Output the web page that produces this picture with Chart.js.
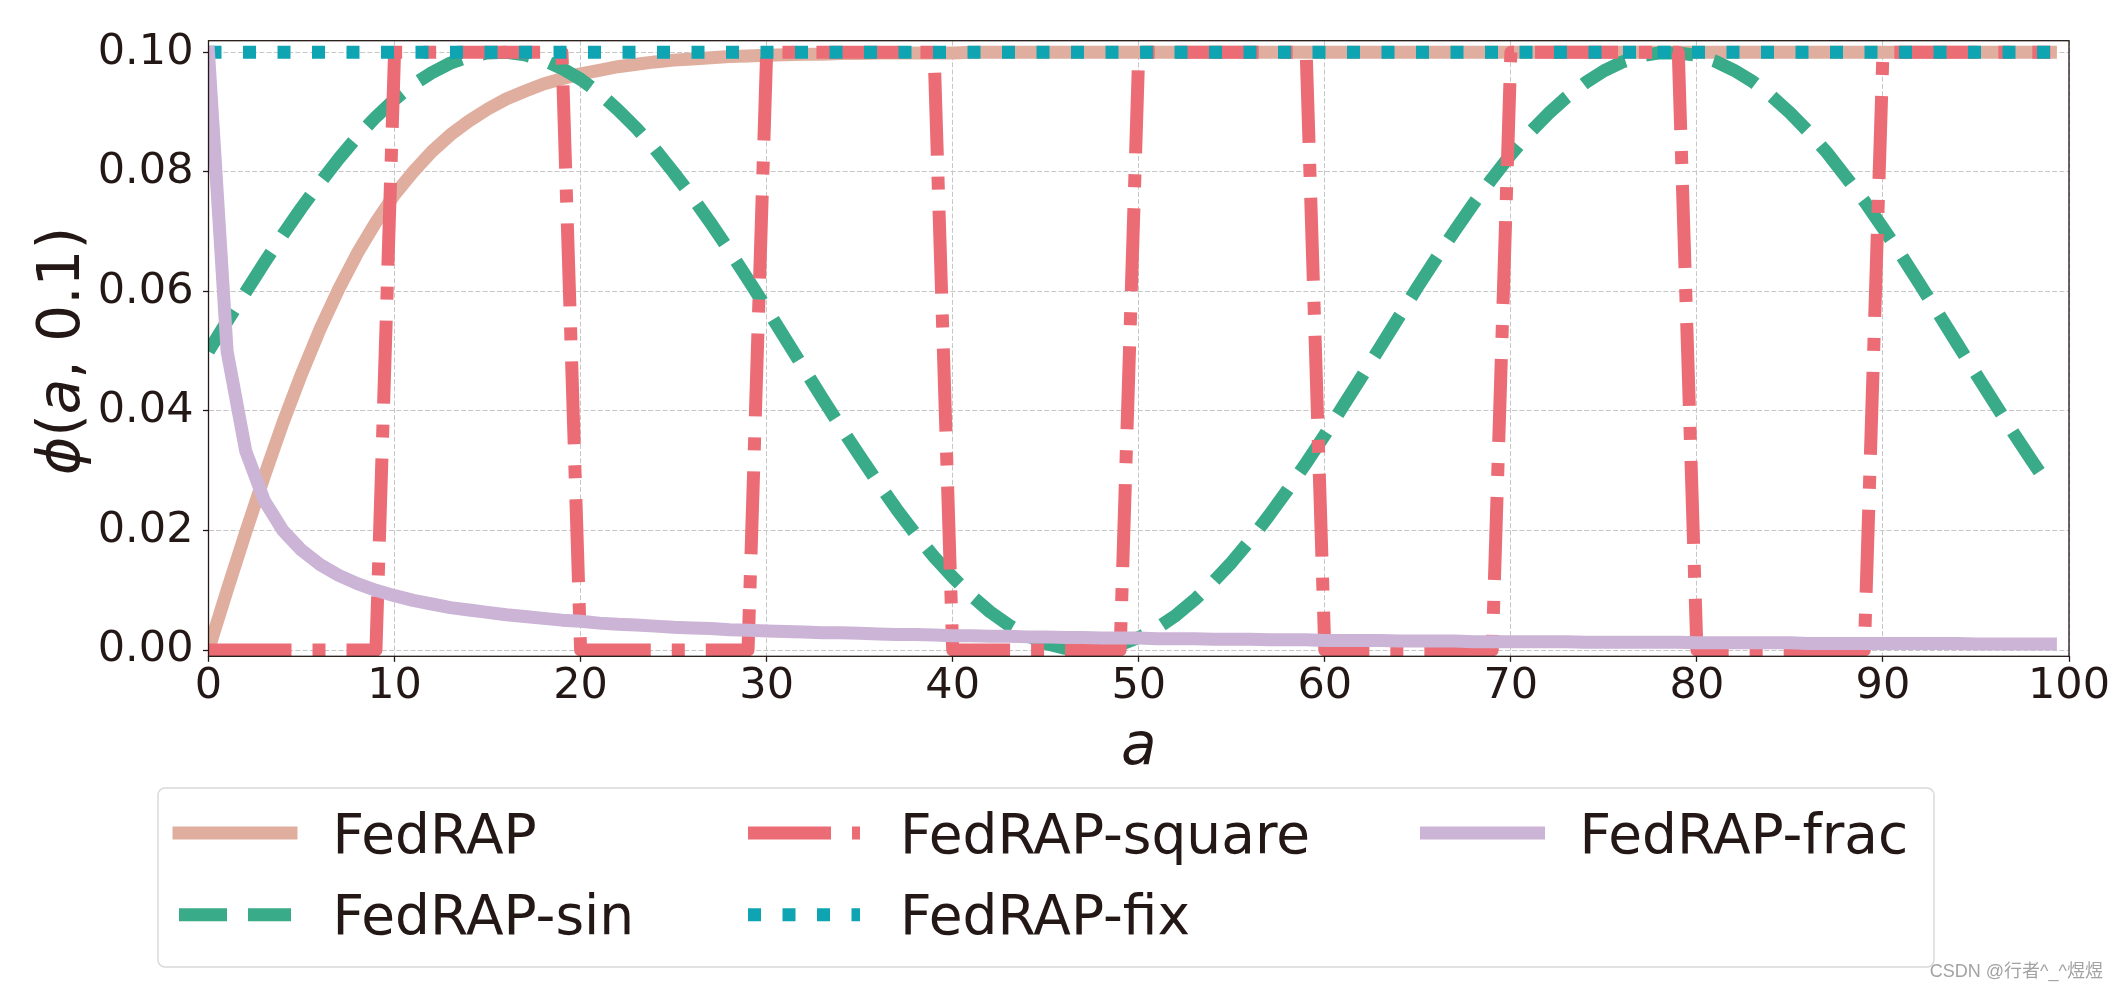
<!DOCTYPE html>
<html>
<head>
<meta charset="utf-8">
<script src="https://cdn.jsdelivr.net/npm/chart.js@4.4.0/dist/chart.umd.min.js"></script>
<style>
    html, body { margin: 0; padding: 0; background: #ffffff; }
    #wrap { position: relative; width: 2120px; height: 991px; overflow: hidden; }
    #chart { position: absolute; left: 0; top: 0; }
    #overlay { position: absolute; left: 0; top: 0; pointer-events: none; }
    #overlay text { font-family: 'DejaVu Sans', sans-serif; fill: #231815; }
</style>
</head>
<body>
<div id="wrap">
    <canvas id="chart" width="2120" height="991"></canvas>
    <svg id="overlay" width="2120" height="991" xmlns="http://www.w3.org/2000/svg">
        <!-- legend frame -->
        <rect x="158" y="788" width="1776" height="179" rx="7" ry="7" fill="#ffffff" stroke="#d9d9d9" stroke-width="1.5"></rect>
        <g id="legendItems"></g>

        <!-- axis titles -->
        <text x="1138.7" y="763.5" text-anchor="middle" font-size="58" font-style="italic">a</text>
        <text transform="translate(78.5,351) rotate(-90)" text-anchor="middle" font-size="58"><tspan font-style="italic">ϕ</tspan>(<tspan font-style="italic">a</tspan>, 0.1)</text>

        <!-- watermark -->
        <text x="2103" y="977" text-anchor="end" font-size="18" style="font-family:'Liberation Sans','Noto Sans CJK SC',sans-serif; fill:#a3a3a3;">CSDN @行者^_^煜煜</text>
    </svg>
</div>

<script>
// ===================================================
// DATA
// ===================================================
const aValues = [
    0, 1, 2, 3, 4, 5, 6, 7, 8, 9,
    10, 11, 12, 13, 14, 15, 16, 17, 18, 19,
    20, 21, 22, 23, 24, 25, 26, 27, 28, 29,
    30, 31, 32, 33, 34, 35, 36, 37, 38, 39,
    40, 41, 42, 43, 44, 45, 46, 47, 48, 49,
    50, 51, 52, 53, 54, 55, 56, 57, 58, 59,
    60, 61, 62, 63, 64, 65, 66, 67, 68, 69,
    70, 71, 72, 73, 74, 75, 76, 77, 78, 79,
    80, 81, 82, 83, 84, 85, 86, 87, 88, 89,
    90, 91, 92, 93, 94, 95, 96, 97, 98, 99
];

const fedrap = [
    0, 0.0100, 0.0197, 0.0291, 0.0380, 0.0462, 0.0537, 0.0604, 0.0664, 0.0716,
    0.0762, 0.0800, 0.0834, 0.0862, 0.0885, 0.0905, 0.0922, 0.0935, 0.0947, 0.0956,
    0.0964, 0.0970, 0.0976, 0.0980, 0.0984, 0.0987, 0.0989, 0.0991, 0.0993, 0.0994,
    0.0995, 0.0996, 0.0997, 0.0997, 0.0998, 0.0998, 0.0999, 0.0999, 0.0999, 0.0999,
    0.0999, 0.1, 0.1, 0.1, 0.1, 0.1, 0.1, 0.1, 0.1, 0.1,
    0.1, 0.1, 0.1, 0.1, 0.1, 0.1, 0.1, 0.1, 0.1, 0.1,
    0.1, 0.1, 0.1, 0.1, 0.1, 0.1, 0.1, 0.1, 0.1, 0.1,
    0.1, 0.1, 0.1, 0.1, 0.1, 0.1, 0.1, 0.1, 0.1, 0.1,
    0.1, 0.1, 0.1, 0.1, 0.1, 0.1, 0.1, 0.1, 0.1, 0.1,
    0.1, 0.1, 0.1, 0.1, 0.1, 0.1, 0.1, 0.1, 0.1, 0.1
];

const fedrapSin = [
    0.0500, 0.0550, 0.0599, 0.0648, 0.0695, 0.0740, 0.0782, 0.0822, 0.0859, 0.0892,
    0.0921, 0.0946, 0.0966, 0.0982, 0.0993, 0.0999, 0.1000, 0.0996, 0.0987, 0.0973,
    0.0955, 0.0932, 0.0904, 0.0873, 0.0838, 0.0799, 0.0758, 0.0714, 0.0668, 0.0620,
    0.0571, 0.0521, 0.0471, 0.0421, 0.0372, 0.0325, 0.0279, 0.0235, 0.0194, 0.0156,
    0.0122, 0.0091, 0.0064, 0.0042, 0.0024, 0.0011, 0.0003, 0.0000, 0.0002, 0.0009,
    0.0021, 0.0037, 0.0058, 0.0084, 0.0114, 0.0147, 0.0184, 0.0225, 0.0268, 0.0313,
    0.0360, 0.0409, 0.0458, 0.0508, 0.0558, 0.0608, 0.0656, 0.0702, 0.0747, 0.0789,
    0.0829, 0.0865, 0.0897, 0.0925, 0.0949, 0.0969, 0.0984, 0.0994, 0.0999, 0.0999,
    0.0995, 0.0985, 0.0970, 0.0951, 0.0927, 0.0899, 0.0867, 0.0832, 0.0792, 0.0751,
    0.0706, 0.0660, 0.0611, 0.0562, 0.0512, 0.0462, 0.0413, 0.0364, 0.0317, 0.0271
];

const fedrapSquare = [
    0, 0, 0, 0, 0, 0, 0, 0, 0, 0,
    0.1, 0.1, 0.1, 0.1, 0.1, 0.1, 0.1, 0.1, 0.1, 0.1,
    0, 0, 0, 0, 0, 0, 0, 0, 0, 0,
    0.1, 0.1, 0.1, 0.1, 0.1, 0.1, 0.1, 0.1, 0.1, 0.1,
    0, 0, 0, 0, 0, 0, 0, 0, 0, 0,
    0.1, 0.1, 0.1, 0.1, 0.1, 0.1, 0.1, 0.1, 0.1, 0.1,
    0, 0, 0, 0, 0, 0, 0, 0, 0, 0,
    0.1, 0.1, 0.1, 0.1, 0.1, 0.1, 0.1, 0.1, 0.1, 0.1,
    0, 0, 0, 0, 0, 0, 0, 0, 0, 0,
    0.1, 0.1, 0.1, 0.1, 0.1, 0.1, 0.1, 0.1, 0.1, 0.1
];

const fedrapFix = [
    0.1, 0.1, 0.1, 0.1, 0.1, 0.1, 0.1, 0.1, 0.1, 0.1,
    0.1, 0.1, 0.1, 0.1, 0.1, 0.1, 0.1, 0.1, 0.1, 0.1,
    0.1, 0.1, 0.1, 0.1, 0.1, 0.1, 0.1, 0.1, 0.1, 0.1,
    0.1, 0.1, 0.1, 0.1, 0.1, 0.1, 0.1, 0.1, 0.1, 0.1,
    0.1, 0.1, 0.1, 0.1, 0.1, 0.1, 0.1, 0.1, 0.1, 0.1,
    0.1, 0.1, 0.1, 0.1, 0.1, 0.1, 0.1, 0.1, 0.1, 0.1,
    0.1, 0.1, 0.1, 0.1, 0.1, 0.1, 0.1, 0.1, 0.1, 0.1,
    0.1, 0.1, 0.1, 0.1, 0.1, 0.1, 0.1, 0.1, 0.1, 0.1,
    0.1, 0.1, 0.1, 0.1, 0.1, 0.1, 0.1, 0.1, 0.1, 0.1,
    0.1, 0.1, 0.1, 0.1, 0.1, 0.1, 0.1, 0.1, 0.1, 0.1
];

const fedrapFrac = [
    0.1, 0.05, 0.0333, 0.025, 0.02, 0.0167, 0.0143, 0.0125, 0.0111, 0.01,
    0.0091, 0.0083, 0.0077, 0.0071, 0.0067, 0.0063, 0.0059, 0.0056, 0.0053, 0.0050,
    0.0048, 0.0045, 0.0043, 0.0042, 0.0040, 0.0038, 0.0037, 0.0036, 0.0034, 0.0033,
    0.0032, 0.0031, 0.0030, 0.0029, 0.0029, 0.0028, 0.0027, 0.0026, 0.0026, 0.0025,
    0.0024, 0.0024, 0.0023, 0.0023, 0.0022, 0.0022, 0.0021, 0.0021, 0.0020, 0.0020,
    0.0020, 0.0019, 0.0019, 0.0019, 0.0018, 0.0018, 0.0018, 0.0017, 0.0017, 0.0017,
    0.0016, 0.0016, 0.0016, 0.0016, 0.0015, 0.0015, 0.0015, 0.0015, 0.0014, 0.0014,
    0.0014, 0.0014, 0.0014, 0.0014, 0.0013, 0.0013, 0.0013, 0.0013, 0.0013, 0.0013,
    0.0012, 0.0012, 0.0012, 0.0012, 0.0012, 0.0012, 0.0011, 0.0011, 0.0011, 0.0011,
    0.0011, 0.0011, 0.0011, 0.0011, 0.0011, 0.0010, 0.0010, 0.0010, 0.0010, 0.0010
];

const xTicks = [0, 10, 20, 30, 40, 50, 60, 70, 80, 90, 100];
const yTicks = [0, 0.02, 0.04, 0.06, 0.08, 0.10];
const yTickLabels = ['0.00', '0.02', '0.04', '0.06', '0.08', '0.10'];

// ===================================================
// STYLES
// ===================================================
const TEXT_COLOR = '#231815';
const LINE_W = 13;

const seriesStyles = [
    { label: 'FedRAP',        values: fedrap,       color: '#e0ae9f', dash: [],                 cap: 'square', order: 4 },
    { label: 'FedRAP-sin',    values: fedrapSin,    color: '#3aab88', dash: [48, 21],           cap: 'butt',   order: 3 },
    { label: 'FedRAP-square', values: fedrapSquare, color: '#ec6c76', dash: [83, 21, 13, 21],   cap: 'butt',   order: 2 },
    { label: 'FedRAP-fix',    values: fedrapFix,    color: '#0fa4b2', dash: [13, 21.5],         cap: 'butt',   order: 1 },
    { label: 'FedRAP-frac',   values: fedrapFrac,   color: '#cbb4d6', dash: [],                 cap: 'square', order: 0 }
];

function toPoints(values) {
    return aValues.map((a, i) => ({ x: a, y: values[i] }));
}

// frame drawn above the lines, like matplotlib spines
const framePlugin = {
    id: 'frame',
    afterDatasetsDraw(chart) {
        const { ctx, chartArea } = chart;
        ctx.save();
        ctx.strokeStyle = TEXT_COLOR;
        ctx.lineWidth = 1.3;
        ctx.strokeRect(chartArea.left, chartArea.top, chartArea.right - chartArea.left, chartArea.bottom - chartArea.top);
        ctx.restore();
    }
};

// ===================================================
// CHART
// ===================================================
const tickFont = { family: 'DejaVu Sans', size: 43, lineHeight: 1 };
const gridStyle = {
    color: '#c6c6c6',
    lineWidth: 1,
    tickLength: 5.5,
    tickColor: TEXT_COLOR,
    tickWidth: 1.3,
    tickBorderDash: []
};

new Chart(document.getElementById('chart'), {
    type: 'line',
    data: {
        datasets: seriesStyles.map(s => ({
            label: s.label,
            data: toPoints(s.values),
            borderColor: s.color,
            backgroundColor: s.color,
            borderWidth: LINE_W,
            borderDash: s.dash,
            borderCapStyle: s.cap,
            borderJoinStyle: 'round',
            pointRadius: 0,
            tension: 0,
            fill: false,
            clip: 0,
            order: s.order
        }))
    },
    options: {
        responsive: false,
        animation: false,
        layout: { padding: { left: 0, top: 40.7, right: 51, bottom: 0 } },
        plugins: {
            legend: { display: false },
            tooltip: { enabled: false }
        },
        scales: {
            x: {
                type: 'linear',
                min: 0,
                max: 100,
                afterBuildTicks: scale => { scale.ticks = xTicks.map(v => ({ value: v })); },
                afterFit: scale => { scale.height = 991 - 656.3; },
                ticks: {
                    font: tickFont,
                    color: TEXT_COLOR,
                    padding: 4,
                    maxRotation: 0,
                    autoSkip: false,
                    callback: (v, i) => String(xTicks[i])
                },
                grid: gridStyle,
                border: { display: false, dash: [5, 2.2] }
            },
            y: {
                type: 'linear',
                min: -0.00105,
                max: 0.10195,
                afterBuildTicks: scale => { scale.ticks = yTicks.map(v => ({ value: v })); },
                afterFit: scale => { scale.width = 208.5; },
                ticks: {
                    font: tickFont,
                    color: TEXT_COLOR,
                    padding: 9.5,
                    autoSkip: false,
                    callback: (v, i) => yTickLabels[i]
                },
                grid: gridStyle,
                border: { display: false, dash: [5, 2.2] }
            }
        }
    },
    plugins: [framePlugin]
});

// ===================================================
// LEGEND (matplotlib style, 3 columns filled column-wise)
// ===================================================
const legendSlots = [
    { lineStart: 179,    baseline: 852.7, mid: 833,   textX: 332.6 },
    { lineStart: 179,    baseline: 934,   mid: 914.7, textX: 332.6 },
    { lineStart: 748,    baseline: 852.7, mid: 833,   textX: 900 },
    { lineStart: 748,    baseline: 934,   mid: 914.7, textX: 900 },
    { lineStart: 1426.5, baseline: 852.7, mid: 833,   textX: 1579.6 }
];
const HANDLE_LEN = 112;
const svgNS = 'http://www.w3.org/2000/svg';
const legendGroup = document.getElementById('legendItems');

seriesStyles.forEach((s, i) => {
    const slot = legendSlots[i];
    const line = document.createElementNS(svgNS, 'line');
    line.setAttribute('x1', slot.lineStart);
    line.setAttribute('x2', slot.lineStart + HANDLE_LEN);
    line.setAttribute('y1', slot.mid);
    line.setAttribute('y2', slot.mid);
    line.setAttribute('stroke', s.color);
    line.setAttribute('stroke-width', LINE_W);
    line.setAttribute('stroke-linecap', s.cap);
    if(s.dash.length) line.setAttribute('stroke-dasharray', s.dash.join(' '));
    legendGroup.appendChild(line);

    const txt = document.createElementNS(svgNS, 'text');
    txt.setAttribute('x', slot.textX);
    txt.setAttribute('y', slot.baseline);
    txt.setAttribute('font-size', 55);
    txt.textContent = s.label;
    legendGroup.appendChild(txt);
});
</script>
</body>
</html>
